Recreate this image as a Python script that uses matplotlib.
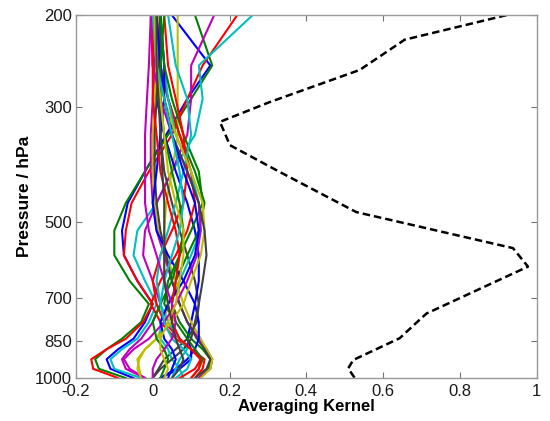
"""Averaging kernels vs pressure."""

import matplotlib

matplotlib.use("Agg")
import matplotlib.pyplot as plt
import numpy as np
from matplotlib.ticker import FixedLocator, FixedFormatter, NullLocator

plt.rcParams["font.family"] = ["Liberation Sans", "DejaVu Sans"]

# pressure levels of the kernel rows (hPa)
levels = [1000, 960, 920, 880, 840, 780, 720, 650, 580, 520, 460, 400, 340, 290, 250, 200]

# kernel rows, drawn in MATLAB colour order b g r c m y k
kernels = [
    # left-bulging rows
    [-0.05, -0.11, -0.12, -0.09, -0.05, -0.02, 0.00, -0.04, -0.075, -0.08, -0.065, -0.02, 0.035, 0.09, 0.15, 0.05],
    [-0.07, -0.14, -0.15, -0.12, -0.08, -0.03, -0.01, -0.06, -0.10, -0.10, -0.07, -0.02, 0.04, 0.10, 0.155, 0.11],
    [-0.09, -0.155, -0.16, -0.12, -0.07, -0.025, 0.00, -0.04, -0.075, -0.07, -0.055, -0.01, 0.05, 0.09, 0.13, 0.22],
    [-0.03, -0.10, -0.11, -0.08, -0.04, -0.01, 0.01, -0.02, -0.05, -0.04, 0.01, 0.05, 0.11, 0.13, 0.12, 0.26],
    [-0.02, -0.07, -0.08, -0.06, -0.03, 0.00, 0.02, 0.00, -0.025, -0.02, 0.01, 0.05, 0.09, 0.10, 0.10, 0.16],
    [-0.03, -0.035, -0.04, -0.02, 0.01, 0.03, 0.04, 0.03, 0.03, 0.03, 0.035, 0.05, 0.065, 0.065, 0.065, 0.065],
    [0.00, 0.015, 0.03, 0.06, 0.09, 0.115, 0.12, 0.11, 0.09, 0.07, 0.05, 0.03, 0.02, 0.02, 0.02, 0.02],
    # right-bulging rows near the surface
    [0.02, 0.07, 0.10, 0.10, 0.09, 0.10, 0.11, 0.12, 0.12, 0.11, 0.09, 0.06, 0.03, 0.01, 0.00, 0.00],
    [0.12, 0.145, 0.15, 0.13, 0.10, 0.07, 0.05, 0.06, 0.09, 0.12, 0.135, 0.11, 0.07, 0.04, 0.02, 0.01],
    [0.11, 0.13, 0.135, 0.10, 0.06, 0.02, -0.005, 0.02, 0.06, 0.09, 0.11, 0.10, 0.07, 0.04, 0.02, 0.01],
    [0.08, 0.07, 0.05, 0.04, 0.02, 0.02, 0.04, 0.07, 0.10, 0.125, 0.12, 0.10, 0.06, 0.04, 0.03, 0.02],
    [0.12, 0.15, 0.155, 0.14, 0.12, 0.09, 0.07, 0.05, 0.03, 0.01, 0.00, -0.005, -0.005, 0.00, 0.005, 0.01],
    [0.125, 0.15, 0.155, 0.14, 0.125, 0.10, 0.08, 0.06, 0.035, 0.015, 0.005, 0.00, 0.00, 0.005, 0.01, 0.015],
    [0.11, 0.14, 0.15, 0.135, 0.115, 0.09, 0.07, 0.05, 0.035, 0.02, 0.01, 0.005, 0.005, 0.01, 0.015, 0.02],
    # mid-level rows
    [0.02, 0.06, 0.09, 0.11, 0.12, 0.12, 0.11, 0.08, 0.04, 0.01, 0.00, 0.01, 0.02, 0.03, 0.03, 0.02],
    [0.10, 0.12, 0.13, 0.11, 0.09, 0.06, 0.03, 0.04, 0.07, 0.10, 0.13, 0.12, 0.08, 0.05, 0.03, 0.02],
    [0.07, 0.11, 0.125, 0.10, 0.07, 0.03, 0.01, 0.00, 0.02, 0.05, 0.08, 0.09, 0.08, 0.06, 0.04, 0.03],
    [0.05, 0.06, 0.07, 0.09, 0.07, 0.04, 0.02, 0.01, 0.02, 0.04, 0.06, 0.08, 0.10, 0.09, 0.06, 0.04],
    [-0.02, -0.06, -0.075, -0.05, -0.01, 0.03, 0.06, 0.09, 0.115, 0.125, 0.12, 0.09, 0.05, 0.02, 0.00, -0.005],
    [-0.03, -0.04, -0.035, -0.02, 0.01, 0.05, 0.08, 0.10, 0.125, 0.135, 0.13, 0.10, 0.06, 0.03, 0.01, 0.00],
    [0.00, 0.02, 0.05, 0.08, 0.10, 0.11, 0.12, 0.13, 0.14, 0.135, 0.12, 0.09, 0.05, 0.03, 0.02, 0.01],
    # small-amplitude rows
    [0.04, 0.05, 0.06, 0.05, 0.03, 0.02, 0.04, 0.08, 0.11, 0.12, 0.11, 0.08, 0.05, 0.03, 0.02, 0.01],
    [0.02, 0.03, 0.04, 0.03, 0.01, 0.00, 0.02, 0.05, 0.07, 0.08, 0.07, 0.05, 0.03, 0.02, 0.02, 0.03],
    [0.10, 0.12, 0.125, 0.10, 0.07, 0.05, 0.05, 0.06, 0.07, 0.06, 0.04, 0.02, 0.01, 0.00, 0.00, 0.00],
    [0.06, 0.09, 0.10, 0.08, 0.05, 0.03, 0.02, 0.03, 0.05, 0.07, 0.08, 0.07, 0.05, 0.03, 0.01, 0.00],
    [0.00, 0.00, 0.01, 0.03, 0.05, 0.06, 0.05, 0.03, 0.01, -0.01, -0.02, -0.02, -0.02, -0.015, -0.01, -0.005],
    [0.03, 0.04, 0.03, 0.02, 0.02, 0.04, 0.06, 0.07, 0.08, 0.08, 0.06, 0.04, 0.03, 0.02, 0.01, 0.005],
    [0.05, 0.07, 0.08, 0.07, 0.06, 0.05, 0.04, 0.03, 0.03, 0.03, 0.03, 0.025, 0.02, 0.015, 0.01, 0.01],
]

# total (column) kernel, dashed
total_p = [200, 223, 255, 294, 321, 356, 401, 479, 562, 610, 751, 772, 838, 923, 958, 1000]
total_x = [0.921, 0.656, 0.539, 0.305, 0.175, 0.201, 0.331, 0.530, 0.938, 0.977, 0.713, 0.695, 0.643, 0.522, 0.509, 0.526]

x_ticks = [-0.2, 0, 0.2, 0.4, 0.6, 0.8, 1]
x_ticklabels = ["-0.2", "0", "0.2", "0.4", "0.6", "0.8", "1"]
y_ticks = [200, 300, 500, 700, 850, 1000]

matlab_colours = [
    (0, 0, 1),
    (0, 0.5, 0),
    (1, 0, 0),
    (0, 0.75, 0.75),
    (0.75, 0, 0.75),
    (0.75, 0.75, 0),
    (0.25, 0.25, 0.25),
]

fig = plt.figure(figsize=(5.5, 4.21), dpi=100)
ax = fig.add_axes([0.138, 0.102, 0.838, 0.862])

for i, row in enumerate(kernels):
    ax.plot(row, levels, color=matlab_colours[i % 7], linewidth=1.5)

ax.plot(total_x, total_p, color="black", linestyle=(0, (3, 1.6)), linewidth=1.8)

ax.set_yscale("log")
ax.set_ylim(1000, 200)
ax.set_xlim(-0.2, 1)
ax.yaxis.set_major_locator(FixedLocator(y_ticks))
ax.yaxis.set_major_formatter(FixedFormatter([str(t) for t in y_ticks]))
ax.yaxis.set_minor_locator(NullLocator())
ax.xaxis.set_major_locator(FixedLocator(x_ticks))
ax.xaxis.set_major_formatter(FixedFormatter(x_ticklabels))

ax.tick_params(
    direction="in", length=4, width=0.8, color="0.45",
    top=True, right=True, labelsize=12, labelcolor="0.1",
)
ax.tick_params(axis="x", pad=4)
ax.tick_params(axis="y", pad=3)
for spine in ax.spines.values():
    spine.set_color("0.6")
    spine.set_linewidth(1.0)

ax.set_xlabel("Averaging Kernel", fontsize=12, fontweight="bold", labelpad=0)
ax.set_ylabel("Pressure / hPa", fontsize=12.5, fontweight="bold", labelpad=2)

fig.savefig("out.png", dpi=100)
